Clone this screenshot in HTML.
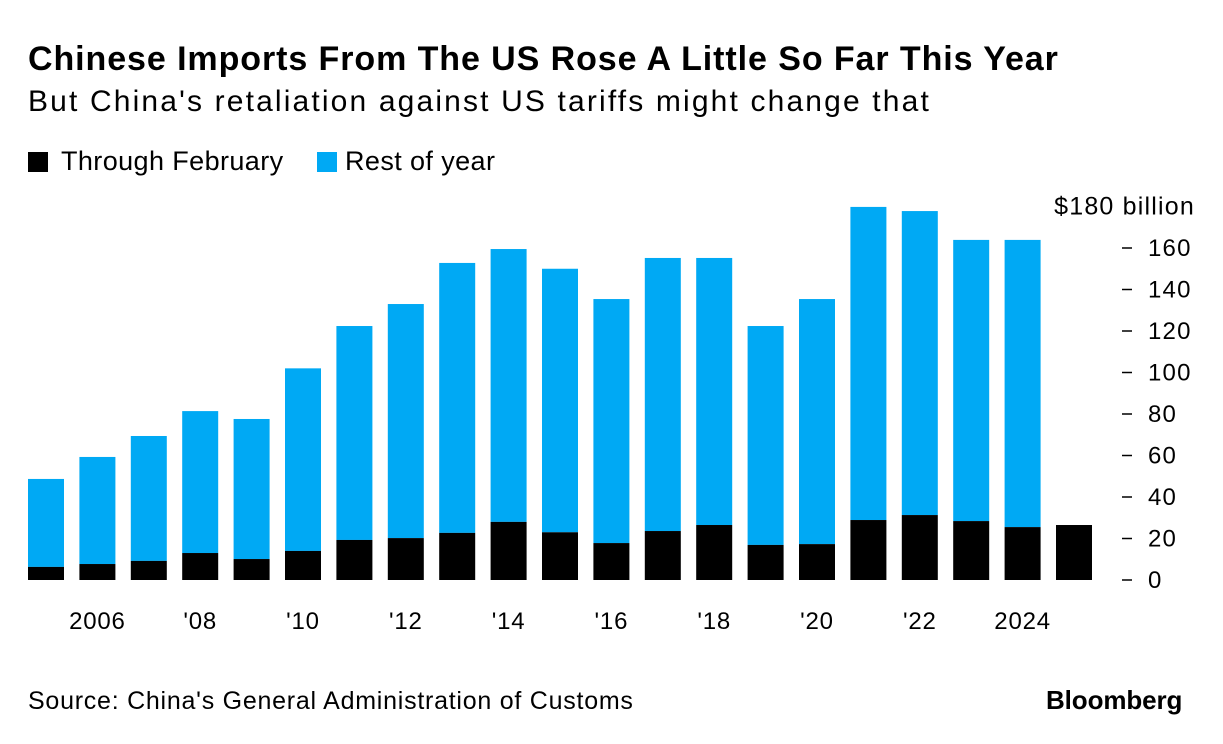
<!DOCTYPE html>
<html><head><meta charset="utf-8"><style>
body{margin:0;background:#fff;font-family:"Liberation Sans",sans-serif;}
#w{position:relative;width:1223px;height:744px;overflow:hidden}
.t{position:absolute;white-space:nowrap;color:#000}
</style></head><body><div id="w">
<div class="t" style="left:28px;top:40px;font-size:34px;font-weight:bold;letter-spacing:0.92px">Chinese Imports From The US Rose A Little So Far This Year</div>
<div class="t" style="left:28px;top:85px;font-size:30px;letter-spacing:2.15px">But China's retaliation against US tariffs might change that</div>
<div class="t" style="left:28px;top:146px;font-size:27px;letter-spacing:0.4px"><span style="display:inline-block;width:20px;height:20px;background:#000;vertical-align:-2px;margin-right:13px"></span>Through February</div>
<div class="t" style="left:317px;top:146px;font-size:27px;letter-spacing:0.4px"><span style="display:inline-block;width:20px;height:20px;background:#00a9f4;vertical-align:-2px;margin-right:8px"></span>Rest of year</div>
<svg id="c" width="1223" height="744" style="position:absolute;left:0;top:0"></svg>
<div class="t" style="left:28px;top:687px;font-size:25px;letter-spacing:0.75px">Source: China's General Administration of Customs</div>
<div class="t" style="left:1046px;top:685px;font-size:26px;font-weight:bold;letter-spacing:-0.1px">Bloomberg</div>
</div>
<script>
const years=[2005,2006,2007,2008,2009,2010,2011,2012,2013,2014,2015,2016,2017,2018,2019,2020,2021,2022,2023,2024,2025];
const throughFeb=[6.3,7.7,9.2,13,10.1,14,19.3,20.2,22.7,28,23,17.8,23.6,26.5,16.9,17.3,28.9,31.3,28.4,25.5,26.5];
const totals=[48.7,59.3,69.4,81.4,77.6,102,122.4,133,152.8,159.5,150,135.4,155.2,155.2,122.4,135.4,179.8,177.8,163.9,163.9,26.5];
const yTicks=[0,20,40,60,80,100,120,140,160];
const xLabels={2006:"2006",2008:"'08",2010:"'10",2012:"'12",2014:"'14",2016:"'16",2018:"'18",2020:"'20",2022:"'22",2024:"2024"};
const NS="http://www.w3.org/2000/svg",svg=document.getElementById('c');
const y=v=>580-v*2.075;
const x=yr=>28+(yr-2005)*51.4;
const bw=36;
function mk(t,a){const e=document.createElementNS(NS,t);for(const k in a)e.setAttribute(k,a[k]);svg.appendChild(e);return e;}
years.forEach((yr,i)=>{
  const rest=totals[i]-throughFeb[i];
  if(rest>0){const r=mk('rect',{x:x(yr),y:y(totals[i]),width:bw,height:y(throughFeb[i])-y(totals[i]),fill:'#00a9f4'});
  
  }
  const b=mk('rect',{x:x(yr),y:y(throughFeb[i]),width:bw,height:y(0)-y(throughFeb[i]),fill:'#000'});
  
  
  if(xLabels[yr]){const t=mk('text',{x:x(yr)+bw/2,y:629,'text-anchor':'middle','font-size':24,'letter-spacing':0.8,fill:'#000'});t.textContent=xLabels[yr];
  
  }
});
yTicks.forEach(v=>{
  const l=mk('line',{x1:1122,x2:1132,y1:y(v),y2:y(v),stroke:'#000','stroke-width':1.5});
  
  
  const t=mk('text',{x:1148,y:y(v)+8,'font-size':24,'letter-spacing':1.2,fill:'#000'});t.textContent=v;
  
  
});
const u=mk('text',{x:1195,y:y(180)+8,'text-anchor':'end','font-size':25,'letter-spacing':1.2,fill:'#000'});u.textContent='$180 billion';


</script></body></html>
